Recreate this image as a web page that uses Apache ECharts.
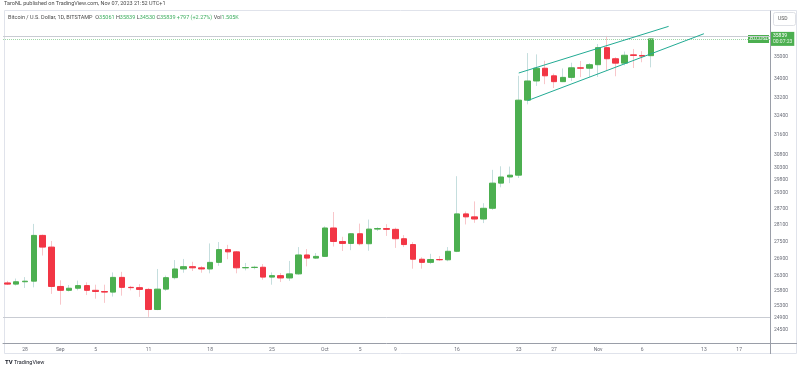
<!DOCTYPE html>
<html><head><meta charset="utf-8">
<script src="https://cdn.jsdelivr.net/npm/echarts@6/dist/echarts.min.js"></script>
<style>html,body{margin:0;padding:0;background:#fff}#c{width:800px;height:370px}</style>
</head><body><div id="c"></div>
<script>
// ---- categories (daily, 2023) ----
const candleDates = ['08-26','08-27','08-28','08-29','08-30','08-31',
'09-01','09-02','09-03','09-04','09-05','09-06','09-07','09-08','09-09','09-10','09-11','09-12','09-13','09-14','09-15',
'09-16','09-17','09-18','09-19','09-20','09-21','09-22','09-23','09-24','09-25','09-26','09-27','09-28','09-29','09-30',
'10-01','10-02','10-03','10-04','10-05','10-06','10-07','10-08','10-09','10-10','10-11','10-12','10-13','10-14','10-15',
'10-16','10-17','10-18','10-19','10-20','10-21','10-22','10-23','10-24','10-25','10-26','10-27','10-28','10-29','10-30','10-31',
'11-01','11-02','11-03','11-04','11-05','11-06','11-07'];
const futureDates = ['11-08','11-09','11-10','11-11','11-12','11-13','11-14','11-15','11-16','11-17','11-18','11-19','11-20'];

// ---- OHLC values ----
const open = [26050,26010,26090,26110,27720,27300,
25930,25800,25870,25960,25800,25760,25740,26240,25900,25890,25830,25160,25840,26230,26530,
26610,26570,26530,26760,27210,27130,26570,26580,26590,26250,26300,26220,26360,27020,26910,
26970,27990,27500,27430,27780,27420,27950,27970,27940,27600,27390,26870,26760,26860,26850,
27150,28510,28400,28320,28720,29680,29920,29990,33080,33920,34490,34150,33890,34080,34510,34490,
34650,35430,34920,34720,35100,35070,35061];
const high = [26120,26200,26250,28140,27750,27520,
26140,25980,26130,26070,25990,25990,26410,26430,25950,26010,25880,26530,26300,26840,26880,
26780,26630,27430,27480,27380,27160,26740,26640,26700,26410,26390,26810,27300,27230,27090,
28050,28580,27670,27800,28150,28300,28020,28130,28000,27730,27480,26940,27060,26980,27300,
29950,28600,28980,28910,30200,30340,30330,34150,35180,35120,34830,34250,34480,34740,34820,34720,
35600,35980,34990,35250,35370,35270,35839];
const low = [25980,25960,25880,25900,27000,25680,
25320,25760,25800,25640,25520,25380,25590,25620,25800,25580,24920,25140,25780,26170,26400,
26460,26400,26380,26640,26870,26380,26480,26520,26160,25990,26080,26120,26330,26620,26880,
26960,27320,27160,27190,27360,27170,27880,27700,27270,27300,26540,26540,26700,26810,26800,
27120,28120,28180,28170,28660,29520,29680,29880,32900,33700,33780,33610,33870,33920,34090,34090,
34100,34400,34130,34620,34500,34760,34530];
const close = [26010,26090,26110,27720,27300,25930,
25800,25870,25960,25800,25760,25740,26240,25900,25890,25830,25160,25840,26230,26530,26610,
26570,26530,26760,27210,27130,26570,26580,26590,26250,26300,26220,26360,27020,26910,26970,
27990,27500,27430,27780,27420,27950,27970,27940,27600,27390,26870,26760,26860,26850,27150,
28510,28400,28320,28720,29680,29920,29990,33080,33920,34490,34150,33890,34080,34510,34490,34650,
35430,34920,34720,35080,35070,35042,35839];

// ---- axis tick labels ----
const yTickValues = [36000,35000,34000,33200,32400,31600,30800,30300,29800,29300,28700,28100,27500,26900,26300,25800,25300,24900,24500];
const xTickDates = ['08-28','09-01','09-05','09-11','09-18','09-25','10-01','10-05','10-09','10-16','10-23','10-27','11-01','11-06','11-13','11-17'];
const xTickTexts = ['28','Sep','5','11','18','25','Oct','5','9','16','23','27','Nov','6','13','17'];

// ---- drawings ----
const levelLines = [35980, 24920];
const lastPrice = 35839;
const channelUpper = [['10-23', 34276], ['11-09', 36430]];
const channelLower = [['10-24', 33060], ['11-13', 36080]];

const categories = candleDates.concat(futureDates);
const wickData = open.map((o, i) => [o, close[i], low[i], high[i]]);
const bodyData = open.map((o, i) => [o, close[i], Math.min(o, close[i]), Math.max(o, close[i])]);

const UP = '#4caf50', DOWN = '#f23645';
const FONT = "Roboto, 'Liberation Sans', sans-serif";
const chart = echarts.init(document.getElementById('c'), null, {renderer: 'canvas'});

const baseGraphic = [
  {type: 'rect', shape: {x: 4.5, y: 10.5, width: 792, height: 343}, style: {fill: 'none', stroke: '#e0e3eb', lineWidth: 1}, z: 0},
  {type: 'line', shape: {x1: 770.5, y1: 343, x2: 770.5, y2: 354}, style: {stroke: '#9a9ea8', lineWidth: 1}},
  {type: 'line', shape: {x1: 770, y1: 343.5, x2: 797, y2: 343.5}, style: {stroke: '#9a9ea8', lineWidth: 1}},
  {type: 'text', x: 4, y: 1, style: {text: 'TaroNL published on TradingView.com, Nov 07, 2023 21:52 UTC+1', fontSize: 5.5, fontFamily: FONT, fill: '#4a4a4a'}},
  {type: 'text', x: 8, y: 14.5, style: {
    text: '{g|Bitcoin / U.S. Dollar, 1D, BITSTAMP}  {g|O}{v|35061} {g|H}{v|35839} {g|L}{v|34530} {g|C}{v|35839} {v|+797 (+2.27%)} {g|Vol}{v|1.505K}',
    fontSize: 5.5, fontFamily: FONT,
    rich: {g: {fill: '#4a4a4a', fontSize: 5.5, fontFamily: FONT}, v: {fill: '#3dae5f', fontSize: 5.5, fontFamily: FONT}}}},
  {type: 'rect', shape: {x: 773.5, y: 12.5, width: 22, height: 13, r: 2}, style: {fill: '#fff', stroke: '#dfe1e6', lineWidth: 1}},
  {type: 'text', x: 778, y: 16.5, style: {text: 'USD', fontSize: 5, fontFamily: FONT, fill: '#555'}},
  {type: 'text', x: 5, y: 359, style: {text: 'TV', fontSize: 6, fontWeight: 'bold', fontFamily: FONT, fill: '#131722'}},
  {type: 'text', x: 14, y: 359.5, style: {text: 'TradingView', fontSize: 5.5, fontFamily: FONT, fill: '#131722'}}
];

chart.setOption({
  animation: false,
  backgroundColor: '#ffffff',
  grid: {left: 3, right: 30, top: 11, bottom: 27, containLabel: false},
  xAxis: {
    type: 'category', data: categories, boundaryGap: true,
    axisLine: {show: true, lineStyle: {color: '#9a9ea8', width: 1}},
    axisTick: {show: false},
    splitLine: {show: false},
    axisLabel: {
      interval: (i, v) => xTickDates.indexOf(v) >= 0,
      formatter: v => xTickTexts[xTickDates.indexOf(v)],
      color: '#6a6d78', fontSize: 5, margin: 4, fontFamily: FONT
    }
  },
  yAxis: {
    type: 'log', logBase: 10, min: 24083, max: 37169, position: 'right',
    axisLine: {show: true, lineStyle: {color: '#9a9ea8', width: 1}},
    axisTick: {show: false},
    splitLine: {show: false},
    axisLabel: {
      customValues: yTickValues,
      formatter: v => String(Math.round(v)),
      color: '#6a6d78', fontSize: 5, margin: 4, fontFamily: FONT
    }
  },
  series: [
    {
      type: 'candlestick', name: 'wick', data: wickData, barWidth: 1,
      itemStyle: {color: '#c5dede', color0: '#f8c6ca', borderColor: '#c5dede', borderColor0: '#f8c6ca', borderWidth: 1},
      silent: true
    },
    {
      type: 'candlestick', name: 'BTCUSD', data: bodyData, barWidth: 6,
      itemStyle: {color: UP, color0: DOWN, borderColor: UP, borderColor0: DOWN, borderWidth: 1},
      markLine: {
        symbol: 'none', silent: true, animation: false,
        data: [
          {yAxis: levelLines[0], lineStyle: {color: '#c9ccd3', type: 'solid', width: 1}, label: {show: false}},
          {yAxis: levelLines[1], lineStyle: {color: '#c9ccd3', type: 'solid', width: 1}, label: {show: false}},
          {yAxis: lastPrice, lineStyle: {color: '#9fd6a8', type: 'dotted', width: 1},
            label: {show: true, position: 'end', distance: 1, formatter: '{a|' + lastPrice + '}\n{b|00:07:23}',
              backgroundColor: UP, padding: [1, 2, 1, 2],
              rich: {a: {color: '#fff', fontSize: 5, lineHeight: 6, fontFamily: FONT},
                     b: {color: '#e6f5e6', fontSize: 5, lineHeight: 6, fontFamily: FONT}}}},
          [{coord: channelUpper[0]}, {coord: channelUpper[1], lineStyle: {color: '#22ab94', width: 1, type: 'solid'}, label: {show: false}}],
          [{coord: channelLower[0]}, {coord: channelLower[1], lineStyle: {color: '#22ab94', width: 1, type: 'solid'}, label: {show: false}}]
        ]
      }
    }
  ],
  graphic: baseGraphic
});

// symbol tag placed at the last price through the axis scale
const py = chart.convertToPixel({yAxisIndex: 0}, lastPrice);
chart.setOption({
  graphic: baseGraphic.concat([
    {type: 'rect', shape: {x: 748, y: Math.round(py) - 4, width: 21, height: 8}, style: {fill: UP}},
    {type: 'text', x: 750, y: Math.round(py) - 2.5, style: {text: 'BTCUSD', fontSize: 5, fontFamily: FONT, fill: '#fff'}}
  ])
});
</script></body></html>
